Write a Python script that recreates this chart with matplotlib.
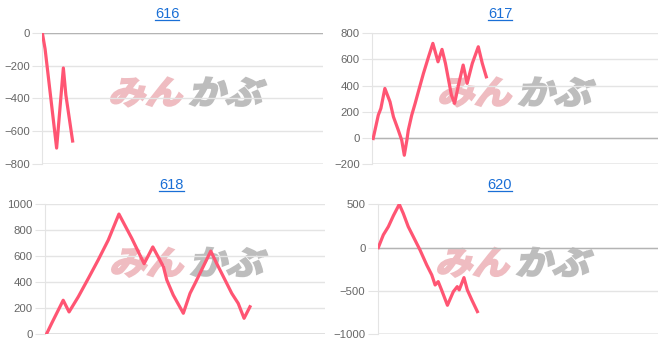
import matplotlib
matplotlib.use('Agg')
from matplotlib import pyplot as plt
from matplotlib.lines import Line2D
from matplotlib.textpath import TextPath
from matplotlib.patches import PathPatch
from matplotlib.font_manager import FontProperties
from matplotlib.transforms import Affine2D

plt.rcParams['font.family'] = ['Liberation Sans', 'DejaVu Sans']

titles = ['616', '617', '618', '620']

x_616 = [0, 1, 5.1, 7.5, 8.4, 10.8]
y_616 = [0, -100, -703, -215, -380, -660]

x_617 = [0.3, 2.1, 3.0, 4.4, 6.2, 7.4, 9.1, 10.3, 11.2, 12.1, 12.6, 13.8, 15.0,
         16.1, 17.9, 19.7, 21.2, 23.0, 24.4, 25.6, 26.7, 27.7, 28.8, 30.3, 31.8,
         33.2, 35.0, 37.1, 38.5, 39.9]
y_617 = [-5, 174, 225, 378, 276, 161, 59, -18, -133, -18, 59, 174, 264, 352,
         493, 621, 723, 582, 677, 570, 442, 327, 264, 417, 557, 417, 570, 697,
         570, 467]

x_618 = [0.6, 2.4, 6.5, 8.6, 11.9, 15.5, 19.0, 22.6, 26.4, 31.0, 35.4, 38.5,
         42.3, 43.5, 45.8, 49.4, 51.8, 53.6, 56.5, 59.2, 61.3, 64.3, 66.7, 69.0,
         71.1, 73.2]
y_618 = [5, 85, 262, 172, 289, 431, 572, 725, 925, 738, 543, 672, 520, 418,
         302, 162, 315, 392, 520, 640, 546, 418, 315, 238, 123, 212]

x_620 = [0.1, 1.9, 3.7, 5.5, 7.6, 9.0, 10.8, 12.6, 15.0, 17.4, 19.2, 20.4, 21.5,
         22.7, 24.8, 26.9, 28.3, 29.0, 30.7, 31.9, 33.5, 35.5]
y_620 = [0, 147, 242, 369, 500, 397, 242, 127, -27, -200, -315, -431, -392,
         -488, -665, -508, -450, -488, -346, -488, -603, -738]

xs = [x_616, x_617, x_618, x_620]
ys = [y_616, y_617, y_618, y_620]
yticks = [
    [-800, -600, -400, -200, 0],
    [-200, 0, 200, 400, 600, 800],
    [0, 200, 400, 600, 800, 1000],
    [-1000, -500, 0, 500],
]

W, H = 666, 345
# plot boxes in pixels: left, right, top, bottom
boxes = [
    (42.3, 323, 32.7, 164),
    (372.3, 658, 33.3, 164),
    (45, 325, 204.3, 334.3),
    (378, 658, 204.3, 334.3),
]
title_pos = [(167, 14), (500, 14), (171.5, 185), (500, 185)]
logo_left = [108, 437, 109, 435]

line_color = '#ff5573'
grid_color = '#e4e4e4'
zero_color = '#b4b4b4'

fig = plt.figure(figsize=(W / 100, H / 100), dpi=100, facecolor='white')
logo_font = FontProperties(family='Noto Sans CJK JP', weight='bold')


def add_logo(ax, left_px, bottom_px):
    # skewed, widened "みんかぶ" watermark drawn in display pixels
    size = 33
    shape = Affine2D().scale(1.12, 1.0).skew_deg(14, 0)
    for txt, col, dx in [('みん', '#efbcc1', 0), ('かぶ', '#bdbdbd', 80)]:
        tp = TextPath((0, 0), txt, size=size, prop=logo_font)
        tr = shape + Affine2D().translate(left_px + dx, bottom_px)
        patch = PathPatch(tp, transform=tr, facecolor=col, edgecolor=col,
                          lw=1.6, zorder=1)
        ax.add_artist(patch)


title_texts = []
for i in range(4):
    l, r, t, b = boxes[i]
    ax = fig.add_axes([l / W, 1 - b / H, (r - l) / W, (b - t) / H])
    ax.plot(xs[i], ys[i], color=line_color, lw=2.3, zorder=3)
    ax.set_xlim(0, 100)
    ax.set_ylim(yticks[i][0], yticks[i][-1])
    ax.set_yticks(yticks[i])
    ax.set_xticks([])
    ax.grid(axis='y', color=grid_color, lw=1)
    ax.axhline(0, color=zero_color, lw=1, zorder=2)
    ax.axhline(yticks[i][0], color=zero_color, lw=1, zorder=2)
    for s in ['top', 'right', 'bottom']:
        ax.spines[s].set_visible(False)
    ax.spines['left'].set_color(grid_color)
    ax.tick_params(axis='y', length=7, color=grid_color, labelsize=8.2,
                   labelcolor='#666666', pad=2)

    add_logo(ax, logo_left[i], H - b + 60)

    tx, ty = title_pos[i]
    tt = fig.text(tx / W, 1 - ty / H, titles[i], ha='center', va='center',
                  fontsize=10.5, color='#1a6fd6')
    title_texts.append(tt)

# underline the titles like links
fig.canvas.draw()
renderer = fig.canvas.get_renderer()
for tt in title_texts:
    bb = tt.get_window_extent(renderer)
    yline = bb.y0 + 1
    fig.add_artist(Line2D([bb.x0 / W, bb.x1 / W], [yline / H, yline / H],
                          color='#1a6fd6', lw=0.9, transform=fig.transFigure))

fig.savefig('out.png', dpi=100, facecolor='white')
